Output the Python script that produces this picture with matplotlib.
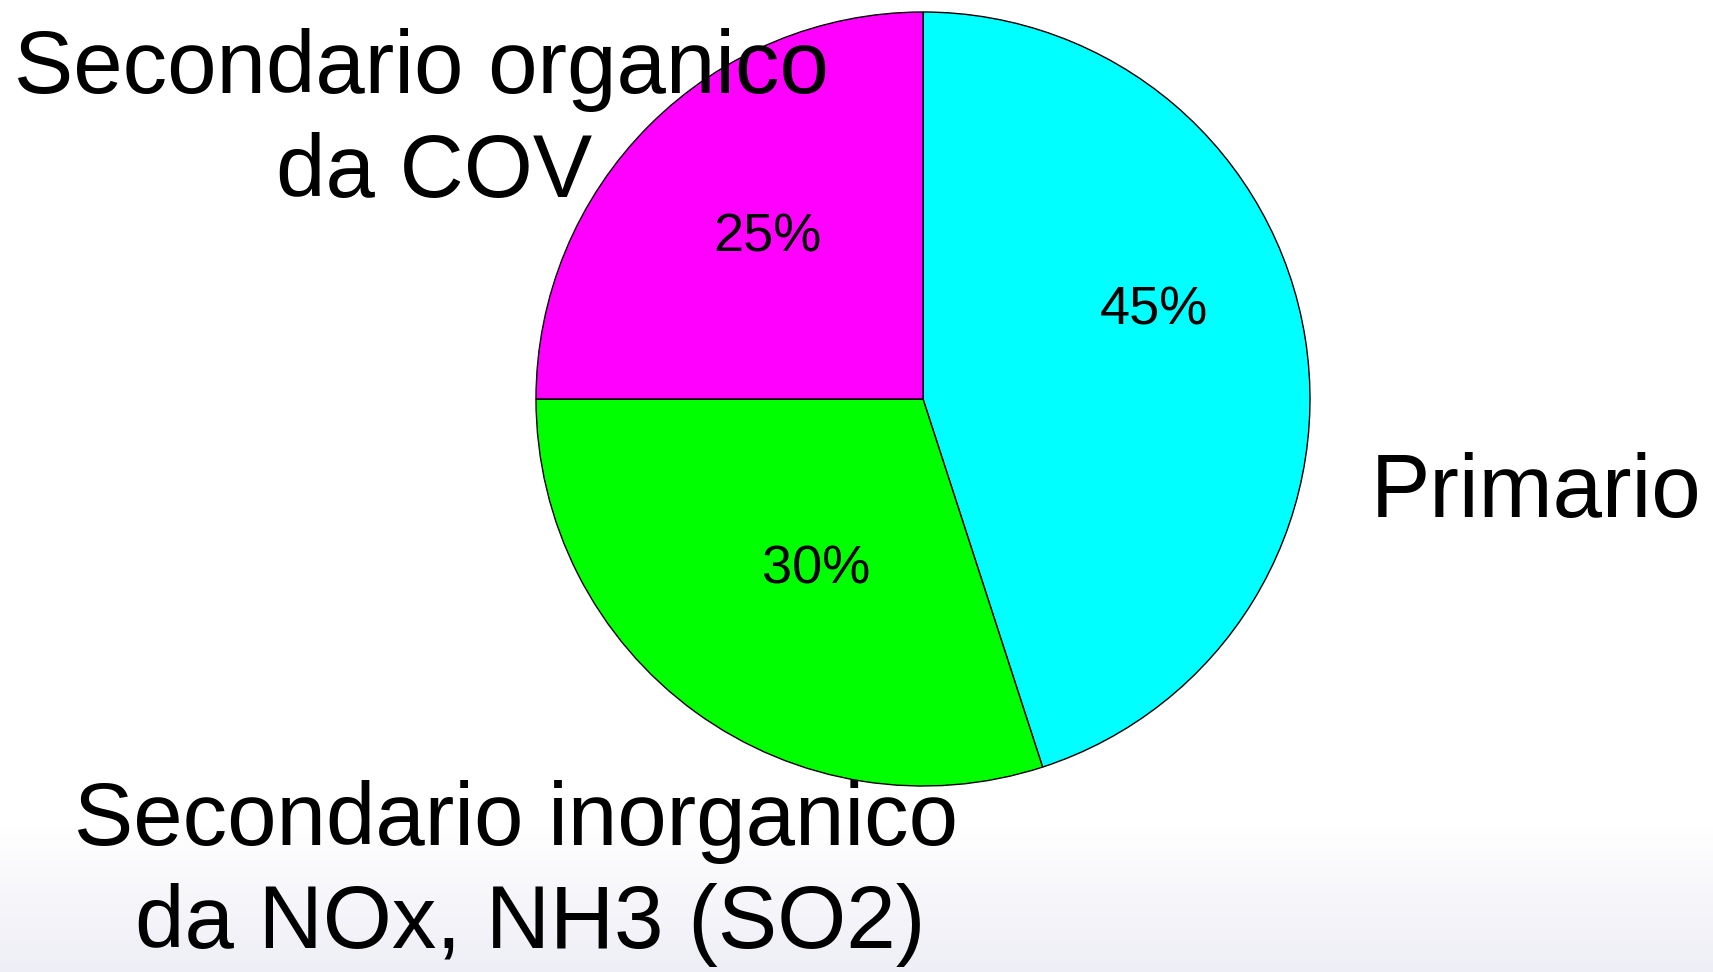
import numpy as np
import matplotlib
matplotlib.use("Agg")
import matplotlib.pyplot as plt
from matplotlib.colors import LinearSegmentedColormap

plt.rcParams['font.family'] = ['Liberation Sans', 'DejaVu Sans']

# data
categories = ['Primario', 'Secondario inorganico\nda NOx, NH3 (SO2)', 'Secondario organico\nda COV']
shares = [45, 30, 25]
colors = ['#00FFFF', '#00FF00', '#FF00FF']

fig = plt.figure(figsize=(17.13, 9.72), dpi=100)

# light slide gradient at the bottom
bg = fig.add_axes([0, 0, 1, 1])
grad = np.linspace(0, 1, 200).reshape(-1, 1)
grad = np.clip((grad - 0.85) / 0.15, 0, 1)
cm = LinearSegmentedColormap.from_list('slide', ['#ffffff', '#eeeef6'])
bg.imshow(grad, cmap=cm, vmin=0, vmax=1, aspect='auto',
          extent=[0, 1, 0, 1], origin='upper')
bg.axis('off')

ax = fig.add_axes([0, 0, 1, 1])
ax.patch.set_alpha(0)
wedges, texts, autotexts = ax.pie(shares, colors=colors, startangle=90, counterclock=False,
                                  autopct='%1.0f%%', pctdistance=0.6,
                                  wedgeprops=dict(edgecolor='black', linewidth=1),
                                  textprops=dict(fontsize=39, color='black'))

# nudge the percent labels like the original slide
pct_r = [0.64, 0.52, 0.58]
pct_shift = [12, 4, -1]
for w, t, r, s in zip(wedges, autotexts, pct_r, pct_shift):
    ang = np.deg2rad((w.theta1 + w.theta2) / 2 + s)
    t.set_position((r * np.cos(ang), r * np.sin(ang)))

# pie centre at (923, 399) px, radius 387 px
R = 387.0
ax.set_xlim(-923 / R, (1713 - 923) / R)
ax.set_ylim(-(972 - 399) / R, 399 / R)
ax.set_aspect('auto')
ax.axis('off')

fs = 64
ax.text(-1.297, 0.791, 'Secondario organico', fontsize=fs, ha='center', va='baseline')
ax.text(-1.264, 0.522, 'da COV', fontsize=fs, ha='center', va='baseline')
ax.text(1.584, -0.305, categories[0], fontsize=fs, ha='center', va='baseline')
ax.text(-1.052, -1.152, 'Secondario inorganico', fontsize=fs, ha='center', va='baseline')
ax.text(-1.016, -1.419, 'da NOx, NH3 (SO2)', fontsize=fs, ha='center', va='baseline')

fig.savefig('out.png', dpi=100)
